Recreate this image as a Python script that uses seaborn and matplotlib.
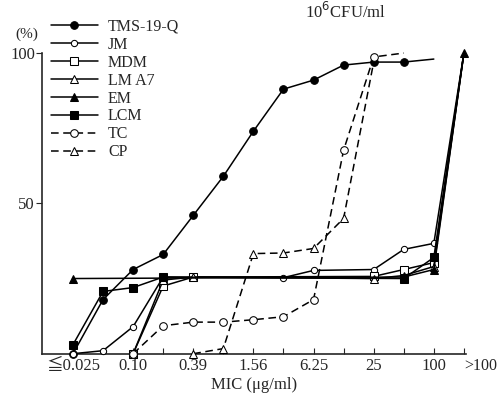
import numpy as np
import pandas as pd
import seaborn as sns
import matplotlib.pyplot as plt

nan = np.nan

# MIC steps (two-fold dilutions), one category per step
mic_labels = ["≦0.025", "0.05", "0.10", "0.20", "0.39", "0.78", "1.56",
              "3.13", "6.25", "12.5", "25", "50", "100", ">100"]
shown_ticks = ["≦0.025", "0.10", "0.39", "1.56", "6.25", "25", "100"]

# cumulative % of strains inhibited
tms = [0, 18, 28, 33, 46, 59, 74, 88, 91, 96, 97, 97, 98, nan]
jm = [0, 1, 9, 25.5, nan, nan, nan, 25.3, 27.7, nan, 28, 34.7, 36.7, 100]
mdm = [nan, nan, 0, 22.5, 25.5, nan, nan, nan, nan, nan, 25.7, 28, 30.3, 100]
lma7 = [nan, nan, 0, 24.5, 25.5, nan, nan, nan, nan, nan, 25, 26, 29, 100]
em = [25, nan, nan, nan, nan, nan, nan, nan, nan, nan, nan, 25.5, 28, 100]
lcm = [3, 20.7, 22, 25.5, nan, nan, nan, nan, nan, nan, nan, 25, 32, 100]
tc = [nan, nan, 0, 9.3, 10.5, 10.5, 11.3, 12.3, 18, 67.7, 98.7, 100, nan, nan]
cp = [nan, nan, nan, nan, 0, 1.7, 33.3, 33.5, 35, 45, 97, nan, nan, nan]

series = {"TMS-19-Q": tms, "JM": jm, "MDM": mdm, "LM A7": lma7,
          "EM": em, "LCM": lcm, "TC": tc, "CP": cp}

rows = []
for name, vals in series.items():
    for i, v in enumerate(vals):
        if not np.isnan(v):
            rows.append({"drug": name, "step": i, "pct": v})
df = pd.DataFrame(rows)

styles = {
    "TMS-19-Q": dict(marker="o", mfc="black", ls="-"),
    "JM": dict(marker="o", mfc="white", ls="-", ms=4.5),
    "MDM": dict(marker="s", mfc="white", ls="-"),
    "LM A7": dict(marker="^", mfc="white", ls="-"),
    "EM": dict(marker="^", mfc="black", ls="-"),
    "LCM": dict(marker="s", mfc="black", ls="-"),
    "TC": dict(marker="o", mfc="white", ls=(0, (5, 3))),
    "CP": dict(marker="^", mfc="white", ls=(0, (5, 3))),
}

sns.set_style("ticks")
plt.rcParams["font.family"] = ["Liberation Serif", "DejaVu Serif", "Noto Sans CJK JP"]

fig = plt.figure(figsize=(5, 3.93), dpi=100)
ax = fig.add_axes([0.084, 0.1, 0.848, 0.765])

for name in series:
    d = df[df["drug"] == name]
    st = dict(ms=5.5, mec="black", lw=1.1, color="black")
    st.update(styles[name])
    n = len(d)
    # final points (where the curve runs off to 100 %) carry no marker
    last_plain = name != "EM" and d["pct"].iloc[-1] >= 97
    st["markevery"] = list(range(n - 1)) if last_plain else list(range(n))
    sns.lineplot(data=d, x="step", y="pct", ax=ax, label=name,
                 clip_on=False, zorder=3, **st)

ax.set_xlim(-1.03, 13.07)
ax.set_ylim(0, 100)
ax.set_xticks(range(len(mic_labels)))
ax.set_xticklabels([l if l in shown_ticks else "" for l in mic_labels],
                   fontsize=12)
# the ">100" label sits off to the right of its tick
ax.annotate(mic_labels[-1], xy=(len(mic_labels) - 1, 0),
            xycoords=("data", "axes fraction"), xytext=(12, -3.2),
            textcoords="offset points", ha="center", va="top", fontsize=11.5)
ax.tick_params(axis="x", direction="in", length=4, width=0.8, pad=3)
ax.set_yticks([50, 100])
ax.set_yticklabels(["50", "100"], fontsize=12)
ax.tick_params(axis="y", direction="out", length=4, width=0.8, pad=1)
sns.despine(ax=ax)
for s in ("left", "bottom"):
    ax.spines[s].set_linewidth(1.2)

ax.set_xlabel("MIC (μg/ml)", fontsize=12, labelpad=2)
ax.set_ylabel("")
fig.text(0.03, 0.905, "(%)", fontsize=11)
fig.text(0.61, 0.955, "10$^{6}$CFU/ml", fontsize=12)

leg = ax.legend(loc="upper left", bbox_to_anchor=(0.005, 1.135), frameon=False,
                fontsize=11.5, handlelength=3.0, labelspacing=0.12,
                handletextpad=0.6, borderaxespad=0, numpoints=1)
for h in leg.legend_handles:
    h.set_markevery([1])

fig.savefig("out.png", dpi=100)
